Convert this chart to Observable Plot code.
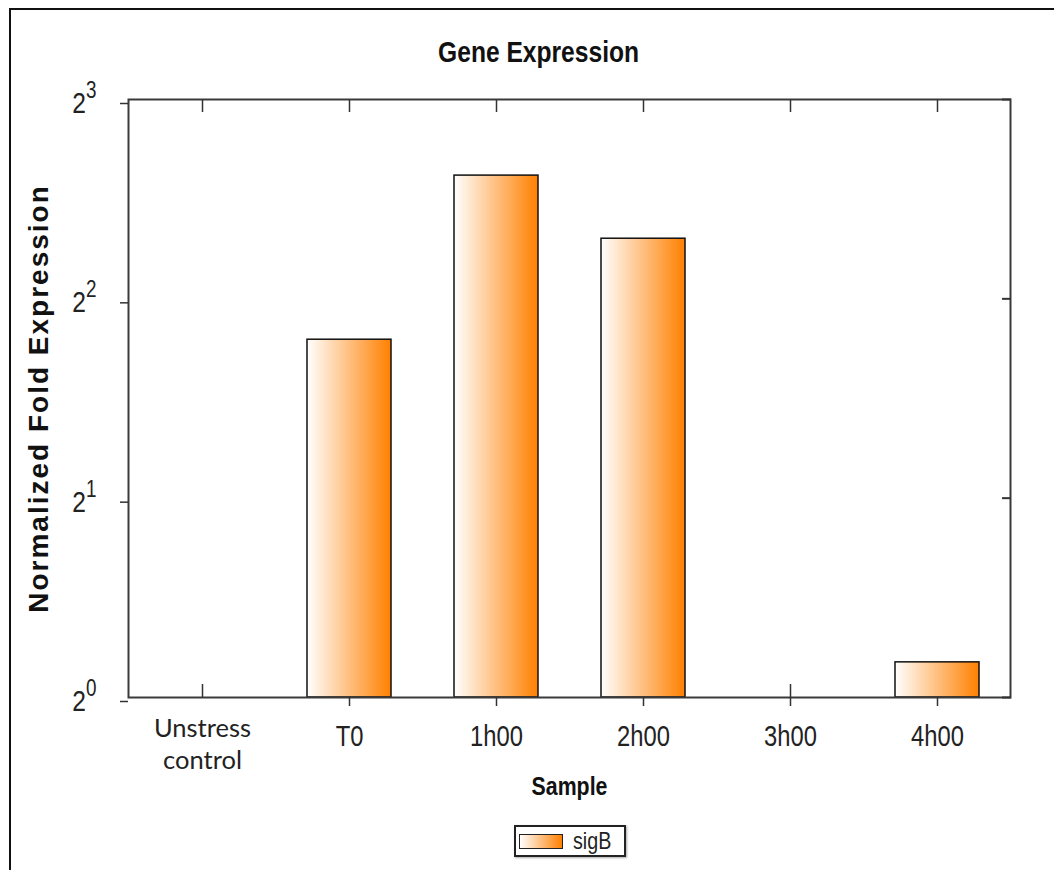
<!DOCTYPE html>
<html><head><meta charset="utf-8">
<script src="https://cdn.jsdelivr.net/npm/d3@7"></script>
<script src="https://cdn.jsdelivr.net/npm/@observablehq/plot@0.6"></script>
<style>
html,body{margin:0;padding:0;background:#fff;}
#page{position:relative;width:1054px;height:870px;overflow:hidden;background:#fff;}
#border{position:absolute;left:9px;top:8px;width:1100px;height:900px;border-left:2px solid #111;border-top:2px solid #111;}
#title{position:absolute;left:0;width:1077px;top:34px;text-align:center;color:#111;line-height:36px;}
#title span{display:inline-block;font-weight:bold;font-size:30px;font-family:'Liberation Sans',Arial,sans-serif;transform:scaleX(0.82);}
#chart{position:absolute;left:0;top:40px;}
#legend{position:absolute;left:514px;top:825px;width:108px;height:28px;border:2px solid #222;box-shadow:1px 1px 2px #aaa;display:flex;align-items:center;background:#fff;}
#legend .swatch{width:42px;height:13px;border:1.5px solid #222;background:linear-gradient(to right,#ffffff,#ff8000);margin-left:3px;}
#legend .lab{margin-left:10px;font-size:24px;font-family:'Liberation Sans',Arial,sans-serif;color:#222;line-height:28px;transform:scaleX(0.82);transform-origin:left center;}
</style>
</head>
<body>
<div id="page">
  <div id="border"></div>
  <div id="title"><span>Gene Expression</span></div>
  <div id="chart"></div>
  <div id="legend"><div class="swatch"></div><div class="lab">sigB</div></div>
</div>
<script>
const samples = ["Unstress control", "T0", "1h00", "2h00", "3h00", "4h00"];
const sigB = [1.0, 3.47, 6.14, 4.93, 1.0, 1.13];
const yTicks = [1, 2, 4, 8];
const seriesName = "sigB";

const data = samples.map((s, i) => ({sample: s, value: sigB[i]}));

const SANS = "'Liberation Sans',Arial,sans-serif";

const chart = Plot.plot({
  width: 1054,
  height: 750,
  marginTop: 59,
  marginBottom: 93,
  marginLeft: 128,
  marginRight: 44,
  style: {background: "transparent", color: "#222", overflow: "visible"},
  x: {type: "band", domain: samples, paddingInner: 0.43, paddingOuter: 0.215},
  y: {type: "log", base: 2, domain: [1, 8]},
  marks: [
    Plot.barY(data, {x: "sample", y1: 1, y2: "value", fill: "url(#sigGrad)", stroke: "#111", strokeWidth: 1.5}),
    Plot.frame({stroke: "#3a3a3a", strokeWidth: 2}),
    Plot.axisY(yTicks, {anchor: "left", tickSize: 8, tickPadding: 24, stroke: "#333", strokeWidth: 1.5,
      tickFormat: d => "2^" + Math.round(Math.log2(d)), fontSize: 30, fontFamily: SANS, dy: 4,
      label: "Normalized Fold Expression", labelAnchor: "center", labelOffset: 100, labelArrow: "none"}),
    Plot.axisY(yTicks, {anchor: "right", tickSize: -9, strokeWidth: 2, stroke: "#333", tickFormat: () => "", label: null}),
    Plot.axisX(samples, {anchor: "top", tickSize: -12, strokeWidth: 1.5, stroke: "#333", tickFormat: () => "", label: null}),
    Plot.axisX(["Unstress control", "3h00"], {anchor: "bottom", tickSize: -13, strokeWidth: 1.5, stroke: "#333", tickFormat: () => "", label: null}),
    Plot.axisX(samples.slice(1), {anchor: "bottom", tickSize: 9, tickPadding: 19, strokeWidth: 1.5, stroke: "#333",
      fontSize: 29, fontFamily: SANS,
      label: "Sample", labelAnchor: "center", labelOffset: 97, labelArrow: "none"}),
    Plot.axisX(["Unstress control"], {anchor: "bottom", tickSize: 0, tickPadding: 16,
      tickFormat: () => "Unstress\ncontrol", fontFamily: "Lato, 'Open Sans', sans-serif", fontSize: 25.5, lineHeight: 1.28, label: null})
  ]
});

const svg = d3.select(chart);
const defs = svg.insert("defs", ":first-child");
const grad = defs.append("linearGradient").attr("id", "sigGrad")
  .attr("x1", "0").attr("x2", "1").attr("y1", "0").attr("y2", "0");
grad.append("stop").attr("offset", "0").attr("stop-color", "#ffffff");
grad.append("stop").attr("offset", "1").attr("stop-color", "#ff8000");

svg.selectAll("text").each(function() {
  const m = /^2\^(\d)$/.exec(this.textContent);
  if (m) {
    const s = d3.select(this);
    s.text("2");
    s.append("tspan").attr("dy", "-15px").attr("font-size", "23px").text(m[1]);
  }
});

svg.selectAll('g[aria-label="y-axis label"] text')
  .attr("font-weight", "bold").attr("font-size", 28).attr("font-family", SANS)
  .style("letter-spacing", "2px").attr("fill", "#111");
svg.selectAll('g[aria-label="x-axis label"] text')
  .attr("font-weight", "bold").attr("font-size", 26).attr("font-family", SANS).attr("fill", "#111");

// narrow the Arial-like texts (Arial Narrow look)
function narrow(sel) {
  sel.each(function() {
    const t = d3.select(this);
    const tr = t.attr("transform");
    if (tr) {
      t.attr("transform", tr + " scale(0.82,1)");
    } else {
      const x = +t.attr("x") || 0, y = +t.attr("y") || 0;
      t.attr("x", null).attr("y", null).attr("transform", `translate(${x},${y}) scale(0.82,1)`);
    }
  });
}
narrow(svg.selectAll('g[aria-label="y-axis tick label"] text'));
narrow(svg.selectAll('g[aria-label="x-axis tick label"] text').filter(function() { return !/Unstress/.test(this.textContent); }));
narrow(svg.selectAll('g[aria-label="x-axis label"] text'));

document.getElementById("chart").appendChild(chart);
</script>
</body></html>
